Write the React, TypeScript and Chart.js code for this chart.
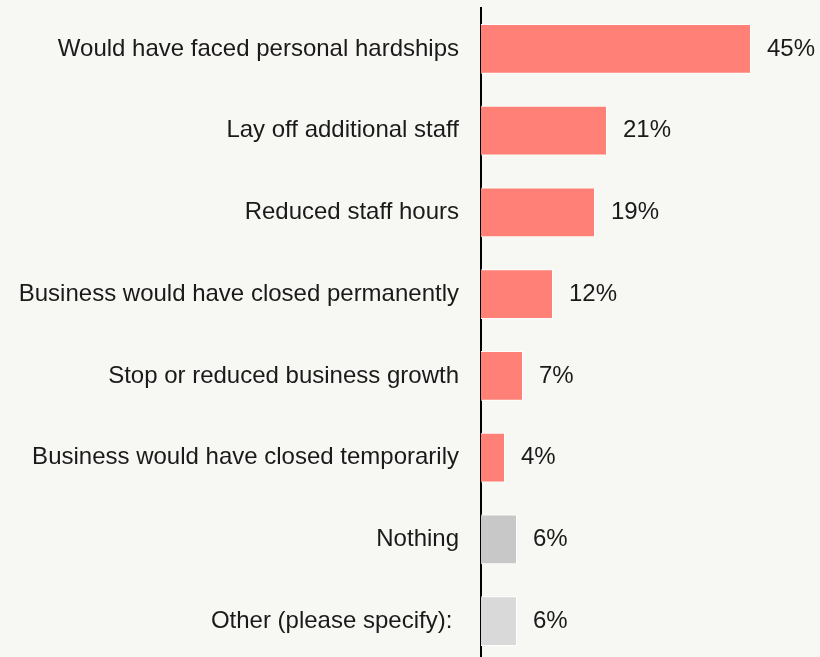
import React, { useEffect, useRef } from "react";
import { Chart, registerables } from "chart.js";

Chart.register(...registerables);

const categories = [
  "Would have faced personal hardships",
  "Lay off additional staff",
  "Reduced staff hours",
  "Business would have closed permanently",
  "Stop or reduced business growth",
  "Business would have closed temporarily",
  "Nothing",
  "Other (please specify): ",
];
const values = [45, 21, 19, 12, 7, 4, 6, 6];
const barColors = [
  "#ff8076",
  "#ff8076",
  "#ff8076",
  "#ff8076",
  "#ff8076",
  "#ff8076",
  "#c8c8c8",
  "#d9d9d9",
];
const valueLabels = ["45%", "21%", "19%", "12%", "7%", "4%", "6%", "6%"];

const FONT = '"Liberation Sans", Arial, Helvetica, sans-serif';

const valueLabelPlugin = {
  id: "valueLabels",
  afterDatasetsDraw(chart: any) {
    const ctx = chart.ctx;
    const meta = chart.getDatasetMeta(0);
    ctx.save();
    ctx.font = `24px ${FONT}`;
    ctx.fillStyle = "#1a1a1a";
    ctx.textAlign = "left";
    ctx.textBaseline = "middle";
    meta.data.forEach((bar: any, i: number) => {
      ctx.fillText(valueLabels[i], bar.x + 16, bar.y);
    });
    ctx.restore();
  },
};

const bgPlugin = {
  id: "bg",
  beforeDraw(chart: any) {
    const ctx = chart.ctx;
    ctx.save();
    ctx.fillStyle = "#f7f7f3";
    ctx.fillRect(0, 0, chart.width, chart.height);
    ctx.restore();
  },
};

export default function App() {
  const ref = useRef<HTMLCanvasElement | null>(null);

  useEffect(() => {
    document.body.style.margin = "0";
    document.body.style.overflow = "hidden";
    document.body.style.background = "#f7f7f3";
    if (!ref.current) return;
    const chart = new Chart(ref.current, {
      type: "bar",
      data: {
        labels: categories,
        datasets: [
          {
            data: values,
            backgroundColor: barColors,
            borderColor: "#ffffff",
            borderWidth: 1,
            categoryPercentage: 1,
            barPercentage: 0.61,
          },
        ],
      },
      options: {
        indexAxis: "y",
        animation: false,
        responsive: false,
        maintainAspectRatio: false,
        layout: { padding: { top: 8, right: 9, bottom: 0, left: 0 } },
        plugins: {
          legend: { display: false },
          tooltip: { enabled: false },
        },
        scales: {
          x: {
            display: false,
            min: 0,
            max: 55,
          },
          y: {
            grid: { display: false, drawTicks: false },
            border: { display: true, color: "#000000", width: 2 },
            ticks: {
              color: "#1a1a1a",
              font: { family: FONT, size: 24 },
              padding: 22,
            },
            afterFit(scale: any) {
              scale.width = 481;
              scale.paddingTop = 0;
              scale.paddingBottom = 0;
            },
          },
        },
      },
      plugins: [bgPlugin, valueLabelPlugin],
    });
    return () => chart.destroy();
  }, []);

  return (
    <div
      style={{
        position: "fixed",
        top: 0,
        left: 0,
        width: 820,
        height: 662,
        background: "#f7f7f3",
      }}
    >
      <canvas ref={ref} width={820} height={662} style={{ display: "block" }} />
    </div>
  );
}
